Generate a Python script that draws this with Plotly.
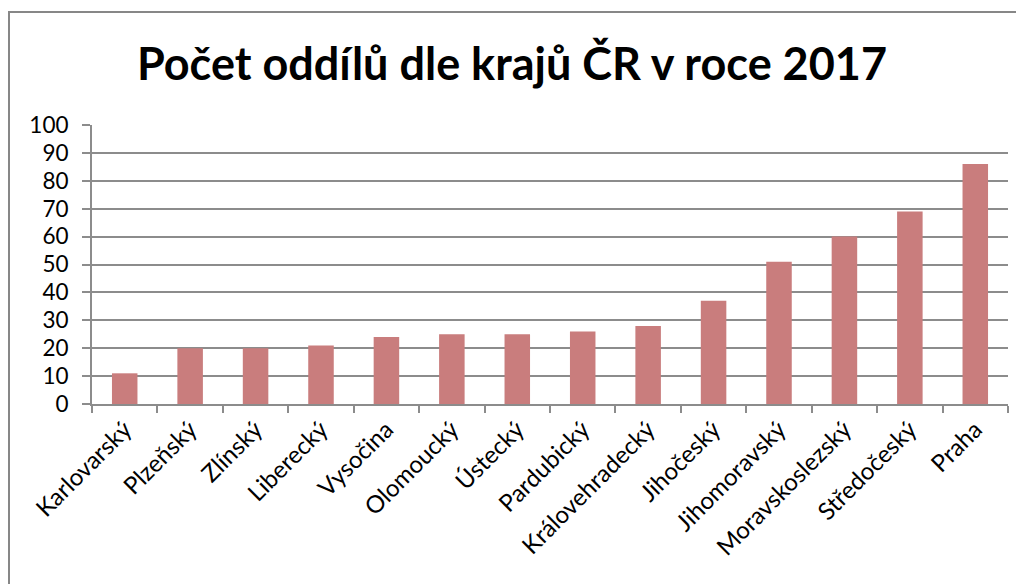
import plotly.graph_objects as go

kraje = ["Karlovarský", "Plzeňský", "Zlínský", "Liberecký", "Vysočina", "Olomoucký",
         "Ústecký", "Pardubický", "Královehradecký", "Jihočeský", "Jihomoravský",
         "Moravskoslezský", "Středočeský", "Praha"]
oddily = [11, 20, 20, 21, 24, 25, 25, 26, 28, 37, 51, 60, 69, 86]
y_ticks = list(range(0, 101, 10))

OFF = 8  # page body margin
W, H = 1024, 584
L, R, T, B = 92 - OFF, 16 + OFF, 125 - OFF, 180 + OFF
pw, ph = W - L - R, H - T - B

fig = go.Figure(go.Bar(x=kraje, y=oddily, marker=dict(color="#C97D7D", line=dict(width=0)),
                       width=0.39))

grey = "#8C8C8C"
fig.update_layout(
    width=W, height=H,
    margin=dict(l=L, r=R, t=T, b=B, autoexpand=False),
    paper_bgcolor="white", plot_bgcolor="white",
    font=dict(family="Lato, Open Sans, sans-serif", color="black", size=24),
    title=dict(text="<b>Počet oddílů dle krajů ČR v roce 2017</b>", x=(512 - OFF) / W,
               xanchor="center", y=1 - (64 - OFF) / H, yanchor="middle",
               font=dict(size=45, color="black")),
    showlegend=False,
    xaxis=dict(type="category", tickangle=-45, tickson="boundaries", ticks="outside",
               ticklen=7, tickwidth=2, tickcolor=grey, showline=True, linecolor=grey,
               linewidth=2, showgrid=False, tickfont=dict(size=24), automargin=False),
    yaxis=dict(range=[0, 100], tickvals=y_ticks, ticks="outside", ticklen=8, tickwidth=2,
               tickcolor=grey, showline=True, linecolor=grey, linewidth=2,
               showgrid=True, gridcolor=grey, gridwidth=2, zeroline=False,
               ticklabelstandoff=9, tickfont=dict(size=22.5), automargin=False),
    shapes=[dict(type="rect", xref="paper", yref="paper",
                 x0=(9 - OFF - L) / pw, x1=(W + 20 - L) / pw,
                 y0=-(H + 20 - (H - B)) / ph, y1=((H - B) - (12 - OFF)) / ph,
                 line=dict(color="#878787", width=2), fillcolor="rgba(0,0,0,0)", layer="below")],
)

fig.write_html("out.html")
